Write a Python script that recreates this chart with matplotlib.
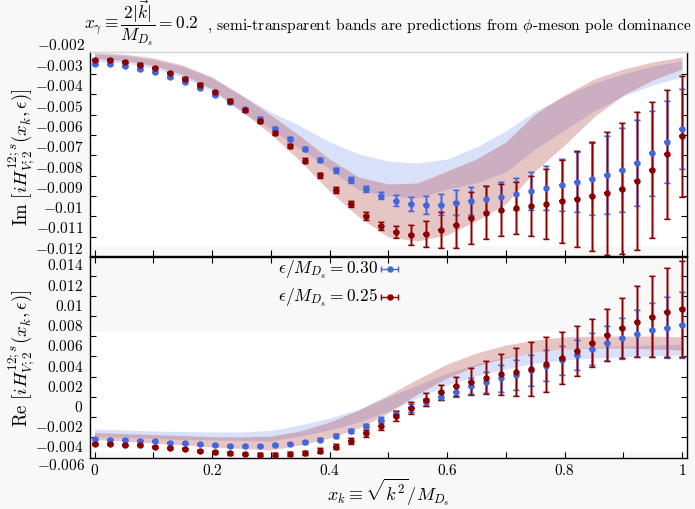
import matplotlib
matplotlib.use('Agg')
import matplotlib.pyplot as plt

# x_k grid of the lattice points
x_k = [0.0, 0.0256, 0.0513, 0.0769, 0.1026, 0.1282, 0.1538, 0.1795, 0.2051, 0.2308,
       0.2564, 0.2821, 0.3077, 0.3333, 0.3590, 0.3846, 0.4103, 0.4359, 0.4615, 0.4872,
       0.5128, 0.5385, 0.5641, 0.5897, 0.6154, 0.6410, 0.6667, 0.6923, 0.7179, 0.7436,
       0.7692, 0.7949, 0.8205, 0.8462, 0.8718, 0.8974, 0.9231, 0.9487, 0.9744, 1.0]

# Im part, eps/M = 0.30 (blue) and 0.25 (red)
im_030 = [-0.00299, -0.00301, -0.00311, -0.00325, -0.00341, -0.00364, -0.00389, -0.00418, -0.00453, -0.00489,
          -0.00524, -0.00571, -0.00619, -0.00668, -0.00720, -0.00774, -0.00824, -0.00871, -0.00914, -0.00949,
          -0.00973, -0.00990, -0.00995, -0.00993, -0.00983, -0.00975, -0.00965, -0.00954, -0.00940, -0.00927,
          -0.00912, -0.00898, -0.00883, -0.00866, -0.00848, -0.00822, -0.00788, -0.00740, -0.00684, -0.00620]
im_030_err = [0.00004, 0.00004, 0.00004, 0.00005, 0.00005, 0.00005, 0.00006, 0.00006, 0.00006, 0.00007,
              0.00007, 0.00008, 0.00008, 0.00009, 0.00010, 0.00011, 0.00012, 0.00013, 0.00015, 0.00018,
              0.00026, 0.00033, 0.00043, 0.00053, 0.00062, 0.00067, 0.00066, 0.00072, 0.00079, 0.00094,
              0.00108, 0.00128, 0.00148, 0.00176, 0.00192, 0.00207, 0.00213, 0.00210, 0.00204, 0.00199]
im_025 = [-0.00279, -0.00280, -0.00290, -0.00303, -0.00321, -0.00344, -0.00372, -0.00403, -0.00439, -0.00482,
          -0.00528, -0.00582, -0.00641, -0.00705, -0.00776, -0.00848, -0.00922, -0.00990, -0.01049, -0.01097,
          -0.01126, -0.01141, -0.01137, -0.01119, -0.01092, -0.01059, -0.01033, -0.01019, -0.01011, -0.01000,
          -0.00990, -0.00976, -0.00966, -0.00952, -0.00937, -0.00914, -0.00876, -0.00821, -0.00745, -0.00656]
im_025_err = [0.00005, 0.00005, 0.00005, 0.00006, 0.00006, 0.00006, 0.00007, 0.00007, 0.00008, 0.00008,
              0.00009, 0.00009, 0.00010, 0.00011, 0.00012, 0.00013, 0.00014, 0.00016, 0.00018, 0.00021,
              0.00030, 0.00049, 0.00066, 0.00089, 0.00113, 0.00126, 0.00130, 0.00128, 0.00128, 0.00149,
              0.00172, 0.00205, 0.00236, 0.00269, 0.00304, 0.00323, 0.00338, 0.00335, 0.00317, 0.00299]

# Re part
re_030 = [-0.00336, -0.00343, -0.00346, -0.00353, -0.00359, -0.00373, -0.00379, -0.00389, -0.00396, -0.00403,
          -0.00405, -0.00403, -0.00396, -0.00386, -0.00369, -0.00343, -0.00307, -0.00260, -0.00208, -0.00148,
          -0.00092, -0.00027, 0.00027, 0.00082, 0.00132, 0.00185, 0.00225, 0.00264, 0.00297, 0.00343,
          0.00389, 0.00442, 0.00495, 0.00554, 0.00610, 0.00660, 0.00705, 0.00739, 0.00765, 0.00791]
re_030_err = [0.00006, 0.00006, 0.00006, 0.00007, 0.00007, 0.00007, 0.00008, 0.00008, 0.00009, 0.00009,
              0.00010, 0.00010, 0.00011, 0.00012, 0.00013, 0.00014, 0.00016, 0.00018, 0.00020, 0.00026,
              0.00030, 0.00040, 0.00036, 0.00036, 0.00053, 0.00079, 0.00106, 0.00132, 0.00148, 0.00152,
              0.00155, 0.00145, 0.00148, 0.00158, 0.00171, 0.00201, 0.00234, 0.00267, 0.00300, 0.00330]
re_025 = [-0.00383, -0.00386, -0.00393, -0.00399, -0.00412, -0.00425, -0.00438, -0.00455, -0.00468, -0.00478,
          -0.00485, -0.00492, -0.00492, -0.00485, -0.00475, -0.00452, -0.00412, -0.00353, -0.00280, -0.00205,
          -0.00112, -0.00030, 0.00052, 0.00126, 0.00185, 0.00230, 0.00270, 0.00304, 0.00326, 0.00356,
          0.00403, 0.00465, 0.00537, 0.00613, 0.00692, 0.00765, 0.00824, 0.00873, 0.00917, 0.00946]
re_025_err = [0.00008, 0.00008, 0.00008, 0.00009, 0.00009, 0.00010, 0.00010, 0.00011, 0.00012, 0.00012,
              0.00013, 0.00014, 0.00015, 0.00017, 0.00019, 0.00022, 0.00026, 0.00030, 0.00036, 0.00042,
              0.00049, 0.00059, 0.00063, 0.00073, 0.00092, 0.00132, 0.00165, 0.00201, 0.00237, 0.00264,
              0.00274, 0.00260, 0.00247, 0.00234, 0.00260, 0.00297, 0.00353, 0.00402, 0.00442, 0.00475]

# phi-meson pole dominance bands
x_band = [0.0, 0.05, 0.1, 0.15, 0.2, 0.25, 0.3, 0.35, 0.4, 0.45, 0.5,
          0.55, 0.6, 0.65, 0.7, 0.75, 0.8, 0.85, 0.9, 0.95, 1.0]
im_band_030_hi = [-0.00251, -0.00258, -0.00278, -0.00312, -0.00369, -0.00453, -0.00536, -0.00605, -0.00684, -0.00743, -0.00778,
                  -0.00788, -0.00768, -0.00709, -0.00630, -0.00532, -0.00458, -0.00394, -0.00349, -0.00310, -0.00285]
im_band_030_lo = [-0.00288, -0.00295, -0.00320, -0.00364, -0.00433, -0.00536, -0.00620, -0.00719, -0.00817, -0.00921, -0.00950,
                  -0.00960, -0.00916, -0.00886, -0.00832, -0.00719, -0.00625, -0.00532, -0.00458, -0.00403, -0.00364]
im_band_025_hi = [-0.00243, -0.00251, -0.00270, -0.00305, -0.00364, -0.00453, -0.00551, -0.00655, -0.00768, -0.00857, -0.00891,
                  -0.00886, -0.00827, -0.00768, -0.00684, -0.00546, -0.00453, -0.00374, -0.00325, -0.00290, -0.00266]
im_band_025_lo = [-0.00273, -0.00283, -0.00307, -0.00352, -0.00423, -0.00532, -0.00645, -0.00778, -0.00926, -0.01054, -0.01152,
                  -0.01172, -0.01142, -0.01073, -0.00990, -0.00827, -0.00699, -0.00561, -0.00453, -0.00379, -0.00325]
re_band_030_hi = [-0.00237, -0.00247, -0.00257, -0.00262, -0.00267, -0.00267, -0.00252, -0.00198, -0.00129, -0.00040, 0.00079,
                  0.00198, 0.00316, 0.00405, 0.00475, 0.00524, 0.00554, 0.00574, 0.00584, 0.00593, 0.00603]
re_band_030_lo = [-0.00312, -0.00321, -0.00331, -0.00341, -0.00346, -0.00351, -0.00356, -0.00307, -0.00247, -0.00168, -0.00059,
                  0.00069, 0.00198, 0.00287, 0.00356, 0.00415, 0.00445, 0.00465, 0.00475, 0.00485, 0.00495]
re_band_025_hi = [-0.00272, -0.00282, -0.00292, -0.00302, -0.00312, -0.00316, -0.00307, -0.00257, -0.00168, -0.00049, 0.00099,
                  0.00257, 0.00405, 0.00514, 0.00593, 0.00643, 0.00673, 0.00682, 0.00682, 0.00682, 0.00673]
re_band_025_lo = [-0.00341, -0.00356, -0.00376, -0.00396, -0.00415, -0.00430, -0.00445, -0.00396, -0.00326, -0.00227, -0.00079,
                  0.00109, 0.00267, 0.00386, 0.00465, 0.00524, 0.00554, 0.00564, 0.00564, 0.00554, 0.00544]

# tick labels
im_ticks = [-0.003, -0.004, -0.005, -0.006, -0.007, -0.008, -0.009, -0.01, -0.011, -0.012]
re_ticks = [0.014, 0.012, 0.01, 0.008, 0.006, 0.004, 0.002, 0.0, -0.002, -0.004]
# tick marks of the frame (drawn a little off the labels, as in the original)
im_marks = [-0.0035, -0.0045, -0.0055, -0.0065, -0.0075, -0.0085, -0.0095, -0.0105, -0.0115]
re_marks = [0.0128, 0.0108, 0.0088, 0.0068, 0.0048, 0.0028, 0.0008, -0.0012, -0.0032]

BLUE = '#4466dd'
BLUE_BAR = '#6f88e4'
RED = '#8b0000'
RED_BAR = '#b04848'
BG = '#f8f8f8'


def fmt(v):
    # tick label text
    s = ('%g' % v)
    if s == '-0':
        s = '0'
    return '$' + s + '$'


def draw_points(ax, y, err, col, bar_col):
    # wide pale bar + thin dark bar with caps, then the marker
    ax.errorbar(x_k, y, yerr=err, fmt='none', ecolor=bar_col, elinewidth=2.2,
                alpha=0.6, capsize=2.2, capthick=1.1, zorder=3)
    ax.errorbar(x_k, y, yerr=err, fmt='none', ecolor=col, elinewidth=0.9,
                capsize=2.2, capthick=1.0, zorder=3.2)
    ax.errorbar(x_k, y, xerr=0.0045, fmt='o', color=col, ms=3.6, elinewidth=1.6,
                capsize=0, zorder=3.5)


def setup_axis(ax, ticks, marks, white_lo, white_hi):
    ax.set_facecolor(BG)
    ax.axhspan(white_lo, white_hi, facecolor='white', edgecolor='none', zorder=0)
    ax.set_xlim(-0.0077, 1.0085)
    ax.set_yticks(ticks)
    ax.set_yticklabels([fmt(t) for t in ticks])
    ax.set_yticks(marks, minor=True)
    ax.set_xticks([0, 0.2, 0.4, 0.6, 0.8, 1.0])
    ax.set_xticks([0.1, 0.3, 0.5, 0.7, 0.9], minor=True)
    ax.tick_params(axis='y', which='major', length=0, pad=5, labelsize=11)
    ax.tick_params(axis='y', which='minor', direction='in', length=4,
                   left=True, right=True, width=0.8)
    ax.tick_params(axis='x', which='both', direction='in', length=4, width=0.8)
    for s in ax.spines.values():
        s.set_linewidth(1.0)


def main():
    plt.rcParams['mathtext.fontset'] = 'cm'
    plt.rcParams['font.family'] = 'serif'
    plt.rcParams['font.serif'] = ['cmr10']
    plt.rcParams['axes.formatter.use_mathtext'] = True

    fig = plt.figure(figsize=(6.95, 5.10), dpi=100)
    fig.patch.set_facecolor(BG)

    ax1 = fig.add_axes([90 / 695, 1 - 257 / 510, 597 / 695, 204 / 510])
    ax2 = fig.add_axes([90 / 695, 1 - 459 / 510, 597 / 695, 201 / 510])

    # Im panel
    setup_axis(ax1, im_ticks, im_marks, -0.01195, -0.00241)
    ax1.set_ylim(-0.012458, -0.002409)
    ax1.fill_between(x_band, im_band_030_lo, im_band_030_hi, color='#4169e1',
                     alpha=0.2, lw=0, zorder=2)
    ax1.fill_between(x_band, im_band_025_lo, im_band_025_hi, color='#a83030',
                     alpha=0.28, lw=0, zorder=2.1)
    draw_points(ax1, im_030, im_030_err, BLUE, BLUE_BAR)
    draw_points(ax1, im_025, im_025_err, RED, RED_BAR)
    ax1.tick_params(axis='x', labelbottom=False, top=False)
    ax1.spines['top'].set_color('#d4d4d4')

    # Re panel
    setup_axis(ax2, re_ticks, re_marks, -0.00455, 0.00722)
    ax2.set_ylim(-0.005242, 0.014637)
    ax2.fill_between(x_band, re_band_030_lo, re_band_030_hi, color='#4169e1',
                     alpha=0.2, lw=0, zorder=2)
    ax2.fill_between(x_band, re_band_025_lo, re_band_025_hi, color='#a83030',
                     alpha=0.28, lw=0, zorder=2.1)
    draw_points(ax2, re_030, re_030_err, BLUE, BLUE_BAR)
    draw_points(ax2, re_025, re_025_err, RED, RED_BAR)
    ax2.set_xticklabels([fmt(t) for t in [0, 0.2, 0.4, 0.6, 0.8, 1]])
    ax2.tick_params(axis='x', which='both', top=True, labelsize=11, pad=3)

    # labels just outside the frames
    fig.text(85 / 695, 1 - 45 / 510, '$-0.002$', ha='right', va='center', fontsize=11)
    fig.text(85 / 695, 1 - 466 / 510, '$-0.006$', ha='right', va='center', fontsize=11)

    # axis titles
    fig.text(22 / 695, 1 - 157 / 510,
             r'$\mathrm{Im}\ [iH^{12;s}_{V;2}(x_k,\epsilon)]$',
             rotation=90, ha='center', va='center', fontsize=13.5)
    fig.text(22 / 695, 1 - 358 / 510,
             r'$\mathrm{Re}\ [iH^{12;s}_{V;2}(x_k,\epsilon)]$',
             rotation=90, ha='center', va='center', fontsize=13.5)
    fig.text(388 / 695, 1 - 492 / 510, r'$x_k \equiv \sqrt{k^2}/M_{D_s}$',
             ha='center', va='center', fontsize=13)

    # title: math part then plain text, same baseline
    fig.text(84 / 695, 1 - 30 / 510,
             r'$x_\gamma \equiv \dfrac{2|\vec{k}|}{M_{D_s}} = 0.2$',
             ha='left', va='baseline', fontsize=12.5)
    fig.text(691 / 695, 1 - 30 / 510,
             ', semi-transparent bands are predictions from $\\phi$-meson pole dominance',
             ha='right', va='baseline', fontsize=11.2)

    # legend
    rows = [(270, r'$\epsilon/M_{D_s} = 0.30$', BLUE), (297.5, r'$\epsilon/M_{D_s} = 0.25$', RED)]
    for yp, lab, col in rows:
        yf = 1 - yp / 510
        fig.text(378 / 695, yf, lab, ha='right', va='center', fontsize=12.5)
        fig.add_artist(plt.Line2D([381 / 695, 398 / 695], [yf, yf], color=col, lw=1.0))
        fig.add_artist(plt.Line2D([381 / 695, 398 / 695], [yf, yf], color=col, lw=0,
                                  marker='|', ms=5, mew=1.0))
        fig.add_artist(plt.Line2D([390 / 695], [yf], color=col, lw=0, marker='o', ms=3.6))

    fig.savefig('out.png', dpi=100, facecolor=fig.get_facecolor())


if __name__ == "__main__":
    main()
